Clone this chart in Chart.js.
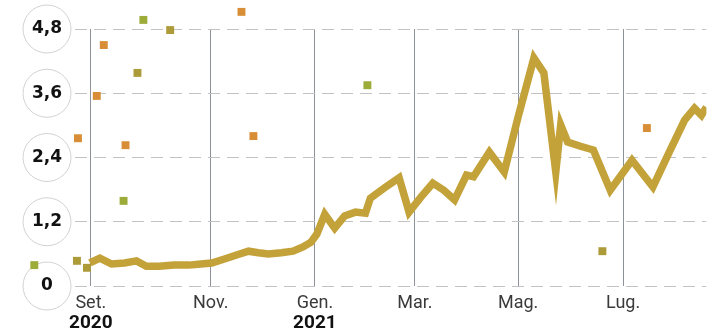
<!DOCTYPE html>
<html>
<head>
<meta charset="utf-8">
<script src="https://cdn.jsdelivr.net/npm/chart.js@4.4.0/dist/chart.umd.min.js"></script>
<style>
  html, body { margin: 0; padding: 0; background: #fff; }
  canvas { display: block; }
</style>
</head>
<body>
<canvas id="chart" width="712" height="331"></canvas>
<script>
// Horizontal position is measured in weeks from the start of September 2020.
const lineWeek = [-0.08, 0.73, 1.69, 2.74, 3.71, 4.51, 5.56, 6.77, 7.98, 8.95,
  9.83, 10.80, 11.85, 12.82, 13.62, 14.43, 15.48, 16.44, 17.25, 17.90,
  18.38, 19.02, 19.83, 20.64, 21.52, 22.33, 22.73, 23.86, 25.07, 25.88,
  26.84, 27.81, 28.70, 29.58, 30.55, 31.12, 32.41, 33.62, 34.75, 36.03,
  36.84, 37.81, 38.21, 38.77, 39.82, 40.87, 42.24, 44.01, 45.71, 47.00,
  48.29, 49.09, 49.66, 50.06];
const lineValue = [0.43, 0.52, 0.41, 0.43, 0.47, 0.37, 0.37, 0.39, 0.39, 0.41,
  0.43, 0.50, 0.58, 0.65, 0.62, 0.60, 0.62, 0.65, 0.73, 0.82,
  0.97, 1.34, 1.08, 1.31, 1.38, 1.36, 1.64, 1.83, 2.02, 1.38,
  1.66, 1.92, 1.79, 1.61, 2.07, 2.04, 2.50, 2.13, 3.16, 4.26,
  3.98, 2.13, 3.01, 2.69, 2.61, 2.54, 1.79, 2.35, 1.85, 2.48,
  3.10, 3.32, 3.19, 3.34];

// Single observations shown as squares
const dotWeek  = [-4.60, -1.13, -1.05, -0.32, 0.48, 1.05, 2.66, 2.82, 3.79, 4.27, 6.45, 12.25, 13.22, 22.49, 41.60, 45.22];
const dotValue = [0.39, 0.47, 2.76, 0.34, 3.55, 4.50, 1.59, 2.63, 3.98, 4.97, 4.78, 5.12, 2.80, 3.75, 0.65, 2.95];
const dotTone  = ['g', 'v', 'o', 'v', 'o', 'o', 'g', 'o', 'v', 'g', 'v', 'o', 'o', 'g', 'v', 'o'];

const monthTicks  = [0, 9.75, 18.22, 26.36, 34.75, 43.29];
const monthLabels = ['Set.', 'Nov.', 'Gen.', 'Mar.', 'Mag.', 'Lug.'];
const yearLabels  = ['2020', '', '2021', '', '', ''];
const valueTicks  = [0, 1.2, 2.4, 3.6, 4.8];

const toneColor = { o: '#d88e36', g: '#9dab38', v: '#ad9a38' };

// White rings behind the value labels and the year line under the months
const axisDecor = {
  id: 'axisDecor',
  beforeDraw(chart) {
    const { ctx } = chart;
    const y = chart.scales.y;
    const cx = y.right - 28;
    ctx.save();
    ctx.fillStyle = '#ffffff';
    ctx.strokeStyle = '#d2d2d2';
    ctx.lineWidth = 1;
    y.ticks.forEach(t => {
      const cy = y.getPixelForValue(t.value);
      ctx.beginPath();
      ctx.arc(cx, cy, 24, 0, Math.PI * 2);
      ctx.fill();
      ctx.stroke();
    });
    ctx.restore();
  },
  afterDraw(chart) {
    const { ctx } = chart;
    const x = chart.scales.x;
    ctx.save();
    ctx.font = 'bold 19px Roboto, "Noto Sans", sans-serif';
    ctx.fillStyle = '#111111';
    ctx.textAlign = 'center';
    ctx.textBaseline = 'middle';
    yearLabels.forEach((label, i) => {
      if (label) ctx.fillText(label, x.getPixelForValue(monthTicks[i]), x.top + 37);
    });
    ctx.restore();
  }
};

// The squares may sit outside the plot frame; let them draw over the whole canvas
const freeSquares = {
  id: 'freeSquares',
  beforeDatasetDraw(chart, args) {
    if (args.index !== 0) return;
    chart.$savedArea = chart.chartArea;
    chart.chartArea = { left: 0, top: 0, right: chart.width, bottom: chart.height,
                        width: chart.width, height: chart.height };
  },
  afterDatasetDraw(chart, args) {
    if (args.index !== 0 || !chart.$savedArea) return;
    chart.chartArea = chart.$savedArea;
    chart.$savedArea = null;
  }
};

new Chart(document.getElementById('chart'), {
  type: 'line',
  data: {
    datasets: [
      {
        type: 'scatter',
        data: dotWeek.map((w, i) => ({ x: w, y: dotValue[i] })),
        pointStyle: 'rect',
        pointRadius: 5.6,
        pointBorderWidth: 0,
        backgroundColor: dotTone.map(t => toneColor[t]),
        clip: false,
        order: 0
      },
      {
        type: 'line',
        data: lineWeek.map((w, i) => ({ x: w, y: lineValue[i] })),
        borderColor: '#c4a23a',
        borderWidth: 7.5,
        pointRadius: 0,
        tension: 0,
        fill: false,
        order: 1
      }
    ]
  },
  options: {
    responsive: false,
    animation: false,
    events: [],
    layout: { padding: { top: 29, left: 0, right: 0, bottom: 0 } },
    plugins: { legend: { display: false }, tooltip: { enabled: false } },
    scales: {
      x: {
        type: 'linear',
        min: -1.29,
        max: 50.06,
        afterBuildTicks: s => { s.ticks = monthTicks.map(v => ({ value: v })); },
        afterFit: s => { s.height = 45; },
        ticks: {
          autoSkip: false,
          maxRotation: 0,
          padding: 7,
          color: '#3a3a3a',
          font: { family: 'Roboto, "Noto Sans", sans-serif', size: 18 },
          callback: (v, i) => monthLabels[i]
        },
        grid: { color: '#8d929a', lineWidth: 1, drawTicks: false },
        border: { display: false }
      },
      y: {
        type: 'linear',
        min: 0,
        max: 4.8,
        afterBuildTicks: s => { s.ticks = valueTicks.map(v => ({ value: v })); },
        afterFit: s => { s.width = 75; },
        ticks: {
          crossAlign: 'center',
          padding: 13,
          color: '#111111',
          font: { family: '"DejaVu Sans", sans-serif', size: 17, weight: 'bold' },
          callback: v => String(v).replace('.', ',')
        },
        grid: { color: '#c2c2c2', lineWidth: 1, drawTicks: false },
        border: { display: false, dash: [12, 7] }
      }
    }
  },
  plugins: [axisDecor, freeSquares]
});
</script>
</body>
</html>
